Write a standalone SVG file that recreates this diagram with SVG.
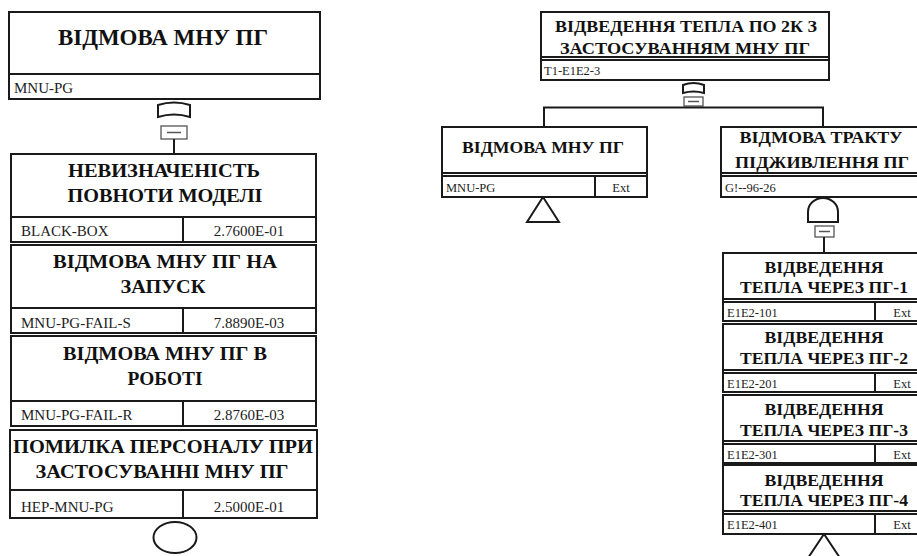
<svg xmlns="http://www.w3.org/2000/svg" width="917" height="556" viewBox="0 0 917 556">
<style>
.box{fill:#fff;stroke:#1a1a1a;stroke-width:2}
.ln{fill:none;stroke:#1a1a1a;stroke-width:2}
.thin{fill:none;stroke:#555;stroke-width:1.5}
.gate{fill:#fff;stroke:#1a1a1a;stroke-width:2}
.tg{fill:#fff;stroke:#555;stroke-width:1.3}
.t{font-family:"Liberation Serif",serif;font-weight:700;fill:#111;text-anchor:middle}
.id{font-family:"Liberation Serif",serif;fill:#222}
.v{font-family:"Liberation Serif",serif;fill:#222;text-anchor:middle}
</style>
<rect width="917" height="556" fill="#fff"/>

<g id="connectors">
<path class="gate" d="M158,117 L158,105 Q174,100 190,105 L190,117 Q174,112 158,117 Z"/>
<rect class="tg" x="161" y="126" width="26" height="13"/>
<line class="thin" x1="167" y1="132.5" x2="181" y2="132.5"/>
<line class="ln" x1="174" y1="139" x2="174" y2="154"/>

<path class="gate" d="M683,93 L683,85 Q693.5,81 704,85 L704,93 Q693.5,90 683,93 Z"/>
<rect class="tg" x="684" y="97" width="19" height="9"/>
<line class="thin" x1="688" y1="101.5" x2="699" y2="101.5"/>
<polyline class="ln" points="544,127 544,107.5 823,107.5 823,127"/>

<path class="gate" d="M808,222 L808,212 A15,14 0 0 1 838,212 L838,222 Z"/>
<rect class="tg" x="815" y="226" width="19" height="11"/>
<line class="thin" x1="819" y1="231.5" x2="830" y2="231.5"/>
<line class="ln" x1="824" y1="237" x2="824" y2="253"/>

<ellipse class="gate" cx="175" cy="537.5" rx="21.5" ry="15.5"/>
<path class="gate" d="M543,197 L527,222 L559,222 Z"/>
<path class="gate" d="M824,534 L806,561 L842,561 Z"/>
</g>

<g id="n-mnu-pg-left">
<rect class="box" x="9" y="12" width="311" height="87"/>
<line class="ln" x1="9" y1="74" x2="320" y2="74"/>
<text class="t" x="163" y="45" font-size="22.5" textLength="210" lengthAdjust="spacingAndGlyphs">ВІДМОВА МНУ ПГ</text>
<text class="id" x="14" y="93" font-size="15">MNU-PG</text>
</g>

<g id="n-black-box">
<rect class="box" x="11" y="154" width="305" height="88"/>
<line class="ln" x1="11" y1="217" x2="316" y2="217"/>
<line class="ln" x1="183" y1="217" x2="183" y2="242"/>
<text class="t" x="164" y="177" font-size="19" textLength="192" lengthAdjust="spacingAndGlyphs">НЕВИЗНАЧЕНІСТЬ</text>
<text class="t" x="165" y="202" font-size="19" textLength="195" lengthAdjust="spacingAndGlyphs">ПОВНОТИ МОДЕЛІ</text>
<text class="id" x="21" y="236" font-size="15">BLACK-BOX</text>
<text class="v" x="249" y="236" font-size="15">2.7600E-01</text>
</g>

<g id="n-fail-s">
<rect class="box" x="11" y="245" width="305" height="88"/>
<line class="ln" x1="11" y1="308" x2="316" y2="308"/>
<line class="ln" x1="183" y1="308" x2="183" y2="333"/>
<text class="t" x="165" y="268" font-size="19" textLength="224" lengthAdjust="spacingAndGlyphs">ВІДМОВА МНУ ПГ НА</text>
<text class="t" x="163" y="293" font-size="19" textLength="85" lengthAdjust="spacingAndGlyphs">ЗАПУСК</text>
<text class="id" x="21" y="328" font-size="15">MNU-PG-FAIL-S</text>
<text class="v" x="249" y="328" font-size="15">7.8890E-03</text>
</g>

<g id="n-fail-r">
<rect class="box" x="11" y="336" width="305" height="90"/>
<line class="ln" x1="11" y1="401" x2="316" y2="401"/>
<line class="ln" x1="183" y1="401" x2="183" y2="426"/>
<text class="t" x="165" y="360" font-size="19" textLength="204" lengthAdjust="spacingAndGlyphs">ВІДМОВА МНУ ПГ В</text>
<text class="t" x="165" y="385" font-size="19" textLength="75" lengthAdjust="spacingAndGlyphs">РОБОТІ</text>
<text class="id" x="21" y="420" font-size="15">MNU-PG-FAIL-R</text>
<text class="v" x="249" y="420" font-size="15">2.8760E-03</text>
</g>

<g id="n-hep">
<rect class="box" x="10" y="430" width="307" height="88"/>
<line class="ln" x1="10" y1="490" x2="317" y2="490"/>
<line class="ln" x1="183" y1="490" x2="183" y2="518"/>
<text class="t" x="163" y="453" font-size="19" textLength="300" lengthAdjust="spacingAndGlyphs">ПОМИЛКА ПЕРСОНАЛУ ПРИ</text>
<text class="t" x="162" y="478" font-size="19" textLength="253" lengthAdjust="spacingAndGlyphs">ЗАСТОСУВАННІ МНУ ПГ</text>
<text class="id" x="21" y="512" font-size="15">HEP-MNU-PG</text>
<text class="v" x="249" y="512" font-size="15">2.5000E-01</text>
</g>

<g id="n-top">
<rect class="box" x="541" y="12" width="288" height="68"/>
<line class="ln" x1="541" y1="57" x2="829" y2="57"/>
<line class="ln" x1="541" y1="60" x2="829" y2="60"/>
<text class="t" x="686" y="32" font-size="17" textLength="262" lengthAdjust="spacingAndGlyphs">ВІДВЕДЕННЯ ТЕПЛА ПО 2К З</text>
<text class="t" x="685" y="54" font-size="17" textLength="250" lengthAdjust="spacingAndGlyphs">ЗАСТОСУВАННЯМ МНУ ПГ</text>
<text class="id" x="544" y="75" font-size="12.5">T1-E1E2-3</text>
</g>

<g id="n-mnu-pg-right">
<rect class="box" x="442" y="127" width="205" height="70"/>
<line class="ln" x1="442" y1="173" x2="647" y2="173"/>
<line class="ln" x1="442" y1="176" x2="647" y2="176"/>
<line class="ln" x1="595" y1="176" x2="595" y2="197"/>
<text class="t" x="543" y="153" font-size="17.5" textLength="162" lengthAdjust="spacingAndGlyphs">ВІДМОВА МНУ ПГ</text>
<text class="id" x="446" y="192" font-size="12.5">MNU-PG</text>
<text class="v" x="621" y="192" font-size="12.5">Ext</text>
</g>

<g id="n-trakt">
<rect class="box" x="721" y="127" width="210" height="70"/>
<line class="ln" x1="721" y1="173" x2="931" y2="173"/>
<line class="ln" x1="721" y1="176" x2="931" y2="176"/>
<text class="t" x="821" y="143" font-size="17" textLength="163" lengthAdjust="spacingAndGlyphs">ВІДМОВА ТРАКТУ</text>
<text class="t" x="822" y="168" font-size="17" textLength="174" lengthAdjust="spacingAndGlyphs">ПІДЖИВЛЕННЯ ПГ</text>
<text class="id" x="725" y="192" font-size="12.5">G!--96-26</text>
</g>

<g id="n-pg1">
<rect class="box" x="723" y="253" width="203" height="68"/>
<line class="ln" x1="723" y1="299" x2="926" y2="299"/>
<line class="ln" x1="723" y1="302" x2="926" y2="302"/>
<line class="ln" x1="875" y1="302" x2="875" y2="321"/>
<text class="t" x="824" y="273" font-size="16" textLength="119" lengthAdjust="spacingAndGlyphs">ВІДВЕДЕННЯ</text>
<text class="t" x="824" y="293" font-size="16" textLength="168" lengthAdjust="spacingAndGlyphs">ТЕПЛА ЧЕРЕЗ ПГ-1</text>
<text class="id" x="727" y="317" font-size="12.5">E1E2-101</text>
<text class="v" x="902" y="317" font-size="12.5">Ext</text>
</g>

<g id="n-pg2">
<rect class="box" x="723" y="324" width="203" height="68"/>
<line class="ln" x1="723" y1="370" x2="926" y2="370"/>
<line class="ln" x1="723" y1="373" x2="926" y2="373"/>
<line class="ln" x1="875" y1="373" x2="875" y2="392"/>
<text class="t" x="824" y="343" font-size="16" textLength="119" lengthAdjust="spacingAndGlyphs">ВІДВЕДЕННЯ</text>
<text class="t" x="824" y="364" font-size="16" textLength="168" lengthAdjust="spacingAndGlyphs">ТЕПЛА ЧЕРЕЗ ПГ-2</text>
<text class="id" x="727" y="388" font-size="12.5">E1E2-201</text>
<text class="v" x="902" y="388" font-size="12.5">Ext</text>
</g>

<g id="n-pg3">
<rect class="box" x="723" y="395" width="203" height="68"/>
<line class="ln" x1="723" y1="441" x2="926" y2="441"/>
<line class="ln" x1="723" y1="444" x2="926" y2="444"/>
<line class="ln" x1="875" y1="444" x2="875" y2="463"/>
<text class="t" x="824" y="415" font-size="16" textLength="119" lengthAdjust="spacingAndGlyphs">ВІДВЕДЕННЯ</text>
<text class="t" x="824" y="436" font-size="16" textLength="168" lengthAdjust="spacingAndGlyphs">ТЕПЛА ЧЕРЕЗ ПГ-3</text>
<text class="id" x="727" y="459" font-size="12.5">E1E2-301</text>
<text class="v" x="902" y="459" font-size="12.5">Ext</text>
</g>

<g id="n-pg4">
<rect class="box" x="723" y="465" width="203" height="69"/>
<line class="ln" x1="723" y1="511" x2="926" y2="511"/>
<line class="ln" x1="723" y1="514" x2="926" y2="514"/>
<line class="ln" x1="875" y1="514" x2="875" y2="534"/>
<text class="t" x="824" y="486" font-size="16" textLength="119" lengthAdjust="spacingAndGlyphs">ВІДВЕДЕННЯ</text>
<text class="t" x="824" y="506" font-size="16" textLength="168" lengthAdjust="spacingAndGlyphs">ТЕПЛА ЧЕРЕЗ ПГ-4</text>
<text class="id" x="727" y="529" font-size="12.5">E1E2-401</text>
<text class="v" x="902" y="529" font-size="12.5">Ext</text>
</g>
</svg>
